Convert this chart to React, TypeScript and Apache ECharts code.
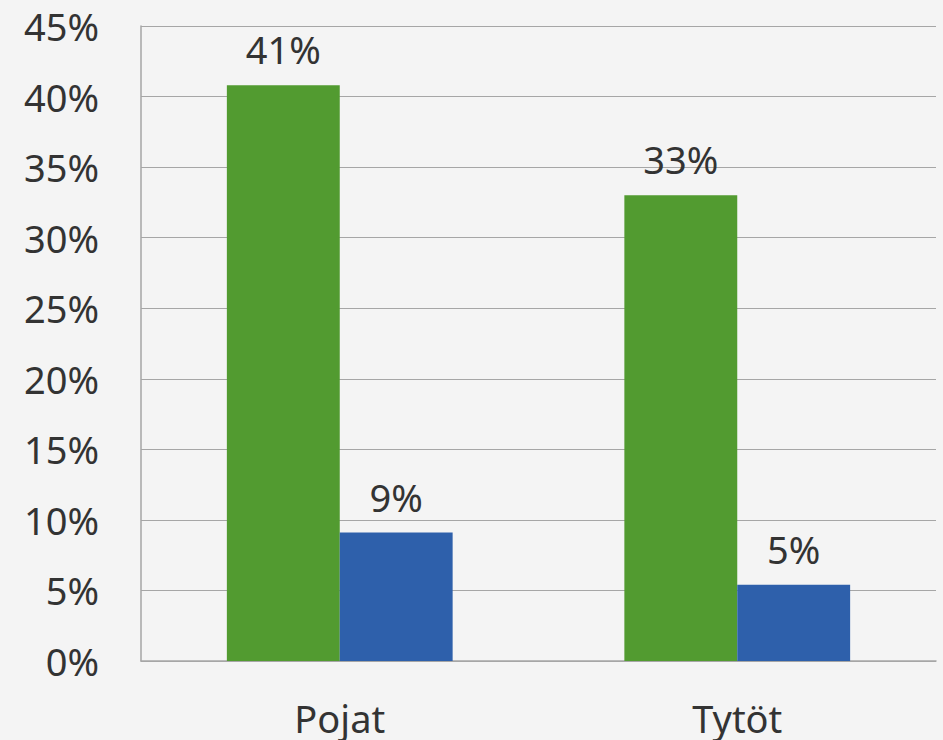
import React, { useEffect, useRef } from "react";
import * as echarts from "echarts";

const categories = ["Pojat", "Tytöt"];
const seriesGreen = [40.8, 33.0];
const seriesBlue = [9.1, 5.4];
const yTicks = { min: 0, max: 45, interval: 5 };

export default function App() {
  const ref = useRef<HTMLDivElement>(null);
  useEffect(() => {
    document.body.style.margin = "0";
    document.body.style.background = "#f4f4f4";
    const chart = echarts.init(ref.current!, null, { renderer: "svg" });
    const font = "'Noto Sans', sans-serif";
    const labelCfg = {
      show: true,
      position: "top",
      distance: 17,
      color: "#333333",
      fontSize: 38,
      fontFamily: font,
      formatter: (p: any) => Math.round(p.value) + "%",
    };
    chart.setOption({
      animation: false,
      backgroundColor: "#f4f4f4",
      grid: { left: 141, right: 7, top: 26, bottom: 79, containLabel: false },
      xAxis: {
        type: "category",
        data: categories,
        axisLine: { show: true, lineStyle: { color: "#a6a6a6", width: 1.5 } },
        axisTick: { show: false },
        axisLabel: { color: "#333333", fontSize: 38, fontFamily: font, margin: 38 },
      },
      yAxis: {
        type: "value",
        min: yTicks.min,
        max: yTicks.max,
        interval: yTicks.interval,
        axisLine: { show: true, lineStyle: { color: "#a6a6a6", width: 1.5 } },
        axisTick: { show: false },
        splitLine: { show: true, lineStyle: { color: "#a6a6a6", width: 1.2 } },
        axisLabel: {
          color: "#333333",
          fontSize: 38,
          fontFamily: font,
          margin: 42,
          formatter: "{value}%",
        },
      },
      series: [
        {
          name: "Sarja 1",
          type: "bar",
          data: seriesGreen,
          barWidth: "28.4%",
          barGap: "0%",
          itemStyle: { color: "#529b30" },
          label: labelCfg,
        },
        {
          name: "Sarja 2",
          type: "bar",
          data: seriesBlue,
          barWidth: "28.4%",
          barGap: "0%",
          itemStyle: { color: "#2e60ab" },
          label: labelCfg,
        },
      ],
    });
    return () => chart.dispose();
  }, []);
  return (
    <div
      ref={ref}
      style={{ position: "absolute", left: 0, top: 0, width: 943, height: 740 }}
    />
  );
}
